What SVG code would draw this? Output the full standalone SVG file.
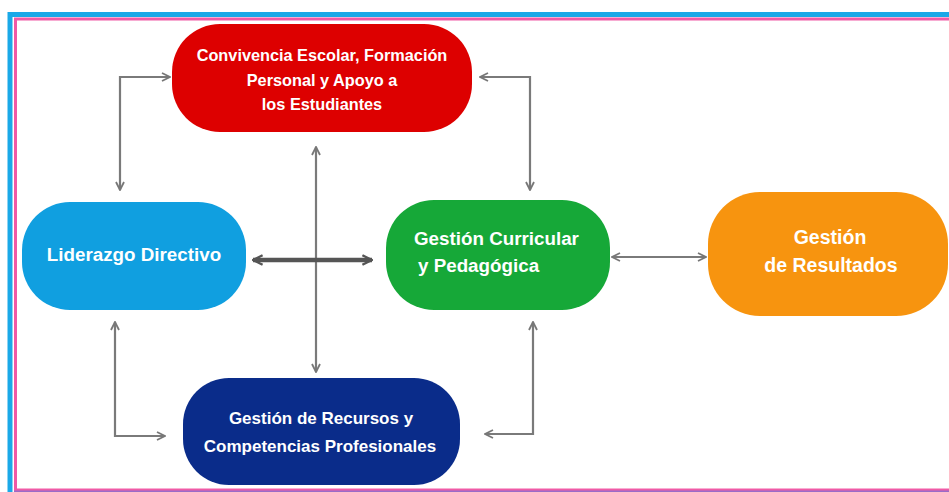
<svg xmlns="http://www.w3.org/2000/svg" width="949" height="492" viewBox="0 0 949 492">
<defs>
<marker id="ah" viewBox="0 0 10 10" refX="9" refY="5" markerWidth="10" markerHeight="10" markerUnits="userSpaceOnUse" orient="auto-start-reverse">
<path d="M1,1 L9,5 L1,9" fill="none" stroke="#777" stroke-width="1.8"/>
</marker>
<marker id="ahd" viewBox="0 0 10 10" refX="9" refY="5" markerWidth="12" markerHeight="12" markerUnits="userSpaceOnUse" orient="auto-start-reverse">
<path d="M1,1 L9,5 L1,9" fill="none" stroke="#555" stroke-width="2"/>
</marker>
</defs>
<style>
.t{font-family:"Liberation Sans",Arial,sans-serif;font-weight:bold;fill:#fff}
.c{stroke:#7a7a7a;stroke-width:2.2;fill:none}
</style>
<rect x="0" y="0" width="949" height="492" fill="#fff"/>
<g id="frame">
<rect x="10" y="14.5" width="960" height="485" fill="none" stroke="#1aa9e8" stroke-width="5"/>
<rect x="15.5" y="19" width="950" height="471" fill="none" stroke="#f05aa6" stroke-width="3"/>
<line x1="14" y1="491.5" x2="949" y2="491.5" stroke="#9a6cc8" stroke-width="2"/>
</g>
<g id="connectors">
<polyline class="c" points="170,77 120,77 120,190" marker-start="url(#ah)" marker-end="url(#ah)"/>
<polyline class="c" points="480,77 530,77 530,190" marker-start="url(#ah)" marker-end="url(#ah)"/>
<line class="c" x1="316" y1="147" x2="316" y2="372" marker-start="url(#ah)" marker-end="url(#ah)"/>
<line x1="253" y1="260" x2="372" y2="260" stroke="#555" stroke-width="4.5" marker-start="url(#ahd)" marker-end="url(#ahd)"/>
<line class="c" x1="612" y1="257" x2="706" y2="257" marker-start="url(#ah)" marker-end="url(#ah)"/>
<polyline class="c" points="115,322 115,436 165,436" marker-start="url(#ah)" marker-end="url(#ah)"/>
<polyline class="c" points="533,322 533,434 485,434" marker-start="url(#ah)" marker-end="url(#ah)"/>
</g>
<g id="convivencia">
<rect x="172" y="24" width="300" height="108" rx="48" fill="#dd0000"/>
<text class="t" font-size="16.3" x="322" y="61" text-anchor="middle">Convivencia Escolar, Formación</text>
<text class="t" font-size="16.3" x="322" y="86" text-anchor="middle">Personal y Apoyo a</text>
<text class="t" font-size="16.3" x="322" y="110" text-anchor="middle">los Estudiantes</text>
</g>
<g id="liderazgo">
<rect x="22" y="202" width="224" height="108" rx="48" fill="#109fe0"/>
<text class="t" font-size="18.8" x="134" y="261" text-anchor="middle">Liderazgo Directivo</text>
</g>
<g id="curricular">
<rect x="386" y="200" width="224" height="110" rx="48" fill="#16a838"/>
<text class="t" font-size="18.8" x="414" y="245">Gestión Curricular</text>
<text class="t" font-size="18.8" x="418" y="272">y Pedagógica</text>
</g>
<g id="resultados">
<rect x="708" y="192" width="240" height="124" rx="52" fill="#f7940f"/>
<text class="t" font-size="19.5" x="830" y="244" text-anchor="middle">Gestión</text>
<text class="t" font-size="19.5" x="831" y="272" text-anchor="middle">de Resultados</text>
</g>
<g id="recursos">
<rect x="183" y="378" width="277" height="107" rx="46" fill="#0a2c8a"/>
<text class="t" font-size="17" x="321" y="424" text-anchor="middle">Gestión de Recursos y</text>
<text class="t" font-size="17" x="320" y="452" text-anchor="middle">Competencias Profesionales</text>
</g>
</svg>
